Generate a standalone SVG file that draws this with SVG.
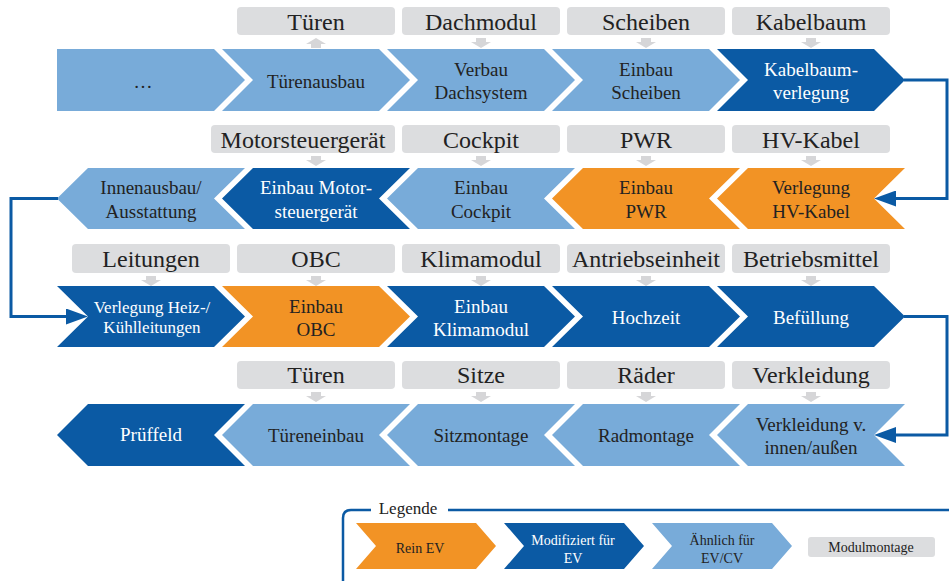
<svg xmlns="http://www.w3.org/2000/svg" width="949" height="581" viewBox="0 0 949 581" font-family="'Liberation Serif', 'DejaVu Serif', serif">
<style>
.lb{fill:#78abd9}
.db{fill:#0b5aa4}
.or{fill:#f29325}
.box{fill:#dcdddf}
.sa{fill:#d6d6d8}
text{font-family:'Liberation Serif','DejaVu Serif',serif;text-anchor:middle}
.t{font-size:19px}
.ts{font-size:17px}
.dk{fill:#222222}
.wh{fill:#ffffff}
.bl{font-size:24px;fill:#222222}
.lg{font-size:14px}
.conn{fill:none;stroke:#0b5aa4;stroke-width:3}
</style>
<defs>
<path id="dn" d="M-5,0 H5 V4 H10 L0,10 L-10,4 H-5 Z"/>
<path id="up" d="M-5,10 H5 V6 H10 L0,0 L-10,6 H-5 Z"/>
<marker id="ah" markerUnits="userSpaceOnUse" markerWidth="22" markerHeight="16" refX="12" refY="8" orient="auto">
<path d="M0,0 L22,8 L0,16 Z" fill="#0b5aa4"/>
</marker>
</defs>

<!-- Row 1 -->
<g id="r1-boxes">
<rect class="box" x="237" y="7" width="158" height="28" rx="4"/><text class="bl" x="316" y="30">Türen</text>
<rect class="box" x="402" y="7" width="158" height="28" rx="4"/><text class="bl" x="481" y="30">Dachmodul</text>
<rect class="box" x="567" y="7" width="158" height="28" rx="4"/><text class="bl" x="646" y="30">Scheiben</text>
<rect class="box" x="732" y="7" width="158" height="28" rx="4"/><text class="bl" x="811" y="30">Kabelbaum</text>
<use href="#up" class="sa" x="316" y="38"/>
<use href="#dn" class="sa" x="481" y="38"/>
<use href="#dn" class="sa" x="646" y="38"/>
<use href="#dn" class="sa" x="811" y="38"/>
</g>
<g id="n-dots"><polygon class="lb" points="57,49 214,49 245,80 214,111 57,111"/><text class="t dk" x="143" y="88">…</text></g>
<g id="n-tuerenausbau"><polygon class="lb" points="222,49 379,49 410,80 379,111 222,111 253,80"/><text class="t dk" x="316" y="88">Türenausbau</text></g>
<g id="n-dachsystem"><polygon class="lb" points="387,49 544,49 575,80 544,111 387,111 418,80"/><text class="t dk" x="481" y="76">Verbau</text><text class="t dk" x="481" y="99">Dachsystem</text></g>
<g id="n-scheiben"><polygon class="lb" points="552,49 709,49 740,80 709,111 552,111 583,80"/><text class="t dk" x="646" y="76">Einbau</text><text class="t dk" x="646" y="99">Scheiben</text></g>
<g id="n-kabelbaum"><polygon class="db" points="717,49 874,49 905,80 874,111 717,111 748,80"/><text class="t wh" x="811" y="76">Kabelbaum-</text><text class="t wh" x="811" y="99">verlegung</text></g>

<!-- Row 2 -->
<g id="r2-boxes">
<rect class="box" x="211" y="125" width="184" height="28" rx="4"/><text class="bl" x="303" y="148">Motorsteuergerät</text>
<rect class="box" x="402" y="125" width="158" height="28" rx="4"/><text class="bl" x="481" y="148">Cockpit</text>
<rect class="box" x="567" y="125" width="158" height="28" rx="4"/><text class="bl" x="646" y="148">PWR</text>
<rect class="box" x="732" y="125" width="158" height="28" rx="4"/><text class="bl" x="811" y="148">HV-Kabel</text>
<use href="#dn" class="sa" x="316" y="156"/>
<use href="#dn" class="sa" x="481" y="156"/>
<use href="#dn" class="sa" x="646" y="156"/>
<use href="#dn" class="sa" x="811" y="156"/>
</g>
<g id="n-innenausbau"><polygon class="lb" points="245,168 88,168 57,198.5 88,229 245,229 214,198.5"/><text class="t dk" x="151" y="194">Innenausbau/</text><text class="t dk" x="151" y="218">Ausstattung</text></g>
<g id="n-motor"><polygon class="db" points="410,168 253,168 222,198.5 253,229 410,229 379,198.5"/><text class="t wh" x="316" y="194">Einbau Motor-</text><text class="t wh" x="316" y="218">steuergerät</text></g>
<g id="n-cockpit"><polygon class="lb" points="575,168 418,168 387,198.5 418,229 575,229 544,198.5"/><text class="t dk" x="481" y="194">Einbau</text><text class="t dk" x="481" y="218">Cockpit</text></g>
<g id="n-pwr"><polygon class="or" points="740,168 583,168 552,198.5 583,229 740,229 709,198.5"/><text class="t dk" x="646" y="194">Einbau</text><text class="t dk" x="646" y="218">PWR</text></g>
<g id="n-hvkabel"><polygon class="or" points="905,168 748,168 717,198.5 748,229 905,229 874,198.5"/><text class="t dk" x="811" y="194">Verlegung</text><text class="t dk" x="811" y="218">HV-Kabel</text></g>

<!-- Row 3 -->
<g id="r3-boxes">
<rect class="box" x="72" y="244" width="158" height="29" rx="4"/><text class="bl" x="151" y="267">Leitungen</text>
<rect class="box" x="237" y="244" width="158" height="29" rx="4"/><text class="bl" x="316" y="267">OBC</text>
<rect class="box" x="402" y="244" width="158" height="29" rx="4"/><text class="bl" x="481" y="267">Klimamodul</text>
<rect class="box" x="567" y="244" width="158" height="29" rx="4"/><text class="bl" x="646" y="267">Antriebseinheit</text>
<rect class="box" x="732" y="244" width="158" height="29" rx="4"/><text class="bl" x="811" y="267">Betriebsmittel</text>
<use href="#dn" class="sa" x="151" y="276"/>
<use href="#dn" class="sa" x="316" y="276"/>
<use href="#dn" class="sa" x="481" y="276"/>
<use href="#dn" class="sa" x="646" y="276"/>
<use href="#dn" class="sa" x="811" y="276"/>
</g>
<g id="n-heiz"><polygon class="db" points="57,286 214,286 245,316.5 214,347 57,347 88,316.5"/><text class="ts wh" x="152" y="313">Verlegung Heiz-/</text><text class="ts wh" x="152" y="333">Kühlleitungen</text></g>
<g id="n-obc"><polygon class="or" points="222,286 379,286 410,316.5 379,347 222,347 253,316.5"/><text class="t dk" x="316" y="313">Einbau</text><text class="t dk" x="316" y="336">OBC</text></g>
<g id="n-klima"><polygon class="db" points="387,286 544,286 575,316.5 544,347 387,347 418,316.5"/><text class="t wh" x="481" y="313">Einbau</text><text class="t wh" x="481" y="336">Klimamodul</text></g>
<g id="n-hochzeit"><polygon class="db" points="552,286 709,286 740,316.5 709,347 552,347 583,316.5"/><text class="t wh" x="646" y="324">Hochzeit</text></g>
<g id="n-befuellung"><polygon class="db" points="717,286 874,286 905,316.5 874,347 717,347 748,316.5"/><text class="t wh" x="811" y="324">Befüllung</text></g>

<!-- Row 4 -->
<g id="r4-boxes">
<rect class="box" x="237" y="361" width="158" height="28" rx="4"/><text class="bl" x="316" y="383">Türen</text>
<rect class="box" x="402" y="361" width="158" height="28" rx="4"/><text class="bl" x="481" y="383">Sitze</text>
<rect class="box" x="567" y="361" width="158" height="28" rx="4"/><text class="bl" x="646" y="383">Räder</text>
<rect class="box" x="732" y="361" width="158" height="28" rx="4"/><text class="bl" x="811" y="383">Verkleidung</text>
<use href="#dn" class="sa" x="316" y="392"/>
<use href="#dn" class="sa" x="481" y="392"/>
<use href="#dn" class="sa" x="646" y="392"/>
<use href="#dn" class="sa" x="811" y="392"/>
</g>
<g id="n-prueffeld"><polygon class="db" points="245,404 88,404 57,435 88,466 245,466 214,435"/><text class="t wh" x="151" y="441">Prüffeld</text></g>
<g id="n-tuereneinbau"><polygon class="lb" points="410,404 253,404 222,435 253,466 410,466 379,435"/><text class="t dk" x="316" y="442">Türeneinbau</text></g>
<g id="n-sitz"><polygon class="lb" points="575,404 418,404 387,435 418,466 575,466 544,435"/><text class="t dk" x="481" y="442">Sitzmontage</text></g>
<g id="n-rad"><polygon class="lb" points="740,404 583,404 552,435 583,466 740,466 709,435"/><text class="t dk" x="646" y="442">Radmontage</text></g>
<g id="n-verkleidung"><polygon class="lb" points="905,404 748,404 717,435 748,466 905,466 874,435"/><text class="t dk" x="811" y="431">Verkleidung v.</text><text class="t dk" x="811" y="454">innen/außen</text></g>

<!-- Connectors -->
<g id="connectors">
<path class="conn" d="M904,80 H947 V198.5 H884" marker-end="url(#ah)"/>
<path class="conn" d="M58,198.5 H11 V316.5 H78" marker-end="url(#ah)"/>
<path class="conn" d="M904,316.5 H947 V435 H884" marker-end="url(#ah)"/>
</g>

<!-- Legend -->
<g id="legend">
<path d="M371,510 H351 Q343,510 343,518 V581 M448,510 H949" fill="none" stroke="#0b5aa4" stroke-width="2.5"/>
<text x="408" y="514" style="font-size:17px" class="dk">Legende</text>
<g id="lg-rein"><polygon class="or" points="356,523 476,523 496,546 476,569 356,569 376,546"/><text class="lg dk" x="420" y="553">Rein EV</text></g>
<g id="lg-mod"><polygon class="db" points="504,523 624,523 644,546 624,569 504,569 524,546"/><text class="lg wh" x="573" y="545">Modifiziert für</text><text class="lg wh" x="573" y="563">EV</text></g>
<g id="lg-aehn"><polygon class="lb" points="652,523 772,523 792,546 772,569 652,569 672,546"/><text class="lg dk" x="722" y="545">Ähnlich für</text><text class="lg dk" x="722" y="563">EV/CV</text></g>
<g id="lg-modul"><rect class="box" x="808" y="537" width="127" height="20" rx="3"/><text class="lg dk" x="871" y="552">Modulmontage</text></g>
</g>
</svg>
